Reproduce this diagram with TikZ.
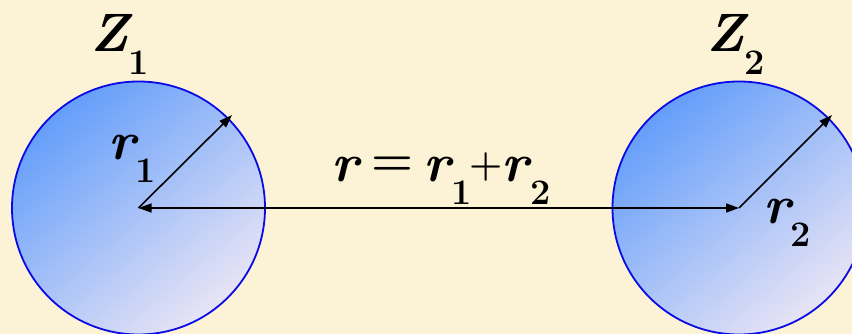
\documentclass[tikz,border=0pt]{standalone}
\usepackage{fontspec}
\usetikzlibrary{arrows.meta}
\definecolor{bgcream}{RGB}{252,243,214}
\definecolor{ringblue}{RGB}{10,10,230}
\definecolor{shadeA}{RGB}{100,158,250}
\definecolor{shadeB}{RGB}{128,190,255}
\definecolor{shadeC}{RGB}{232,228,245}
\newcommand{\mainf}{\fontsize{54}{56}\selectfont\rmfamily\bfseries\itshape}
\newcommand{\subtx}[1]{\raisebox{-23pt}{\fontsize{36}{38}\selectfont\rmfamily\bfseries\upshape #1}}
\newcommand{\opsym}[3]{\raisebox{#2}{\fontsize{#1}{#1}\selectfont\rmfamily\bfseries\upshape #3}}
\tikzset{
  ball/.style={circle, minimum size=253pt, inner sep=0pt, draw=ringblue, line width=1.8pt,
    left color=shadeA, middle color=shadeB, right color=shadeC, shading angle=40},
  radarrow/.style={line width=1.6pt, -{Triangle[length=13pt,width=9pt]}},
  label/.style={anchor=base west, inner sep=0pt, text=black}
}
\begin{document}
\begin{tikzpicture}[x=1pt,y=-1pt]
\useasboundingbox (0,0) rectangle (852,334);
\clip (0,0) rectangle (852,334);
\fill[bgcream] (0,0) rectangle (852,334);
\node[ball] (c1) at (138.5,208) {};
\node[ball] (c2) at (739,208) {};
\coordinate (t1) at (232,115);
\coordinate (t2) at (832,115);
\draw[radarrow] (c1.center) -- (t1);
\draw[radarrow] (c2.center) -- (t2);
\draw[line width=1.6pt, {Triangle[length=13pt,width=9pt]}-{Triangle[length=13pt,width=9pt]}] (c1.center) -- (c2.center);
\node[label] (z1) at (90,52) {\mainf Z\subtx{1}};
\node[label] (z2) at (706,52) {\mainf Z\subtx{2}};
\node[label] (r1) at (108,160) {\mainf r\subtx{1}};
\node[label] (r2) at (763,223) {\mainf r\subtx{2}};
\node[label] (eq) at (331,182) {\mainf\makebox[40pt][l]{r}\makebox[52pt][l]{\opsym{48}{6pt}{=}}\makebox[28pt][l]{r}\makebox[18pt][l]{\subtx{1}}\makebox[32pt][l]{\opsym{38}{5pt}{+}}\makebox[29pt][l]{r}\subtx{2}};
\end{tikzpicture}
\end{document}
